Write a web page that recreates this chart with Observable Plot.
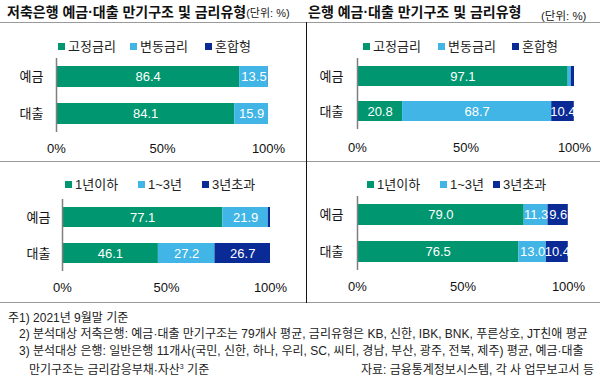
<!DOCTYPE html>
<html>
<head>
<meta charset="utf-8">
<script src="https://cdn.jsdelivr.net/npm/d3@7"></script>
<script src="https://cdn.jsdelivr.net/npm/@observablehq/plot@0.6"></script>
<style>
  html, body { margin: 0; padding: 0; background: #fff; }
  #page { position: relative; width: 600px; height: 380px; overflow: hidden;
          font-family: "Liberation Sans", Arial, "Noto Sans CJK KR", sans-serif; color: #111; }
  .abs { position: absolute; }
  .title { font-size: 14px; font-weight: bold; white-space: nowrap; line-height: 1; }
  .unit { font-size: 11px; font-weight: normal; color: #222; }
  .leg { position: absolute; font-size: 13px; white-space: nowrap; line-height: 1; color: #222; }
  .sw { display: inline-block; width: 7px; height: 7px; margin-right: 3px; vertical-align: 1px; }
  .note { position: absolute; font-size: 12px; white-space: nowrap; line-height: 1; color: #222; }
  .hline { position: absolute; left: 0; width: 600px; height: 0; border-top: 1.5px solid #9a9a9a; }
  .vline { position: absolute; width: 0; border-left: 1.5px solid #111; }
  sup { font-size: 7px; vertical-align: 5px; line-height: 0; }
</style>
</head>
<body>
<div id="page"></div>
<script>
// ---- data ----
const categories = ["예금", "대출"];
const rateTypes = ["고정금리", "변동금리", "혼합형"];
const maturities = ["1년이하", "1~3년", "3년초과"];
const palette = ["#00966F", "#41B5E6", "#0A2A96"];
const xTicks = [0, 50, 100];

// 저축은행 금리유형
const savingsRateDeposit = [86.4, 13.5, 0.1];
const savingsRateLoan = [84.1, 15.9, 0.0];
// 은행 금리유형
const bankRateDeposit = [97.1, 1.4, 1.5];
const bankRateLoan = [20.8, 68.7, 10.4];
// 저축은행 만기구조
const savingsMatDeposit = [77.1, 21.9, 1.0];
const savingsMatLoan = [46.1, 27.2, 26.7];
// 은행 만기구조
const bankMatDeposit = [79.0, 11.3, 9.6];
const bankMatLoan = [76.5, 13.0, 10.4];

const FONT = '"Liberation Sans", Arial, "Noto Sans CJK KR", sans-serif';

function rowsFor(depVals, loanVals, series) {
  const rows = [];
  [[categories[0], depVals], [categories[1], loanVals]].forEach(([cat, vals]) => {
    let acc = 0;
    vals.forEach((v, i) => {
      rows.push({cat, series: series[i], value: v, x1: acc, x2: acc + v});
      acc += v;
    });
  });
  return rows;
}

function panel(o) {
  const rows = rowsFor(o.dep, o.loan, o.series);
  return Plot.plot({
    width: 300,
    height: o.mt + o.ph + o.mb,
    marginLeft: o.ml, marginRight: o.mr, marginTop: o.mt, marginBottom: o.mb,
    style: {fontFamily: FONT, fontSize: "13px", color: "#111", background: "transparent", overflow: "visible"},
    x: {domain: [0, 100], ticks: xTicks, tickFormat: d => d + "%", tickSize: 0, tickPadding: o.xp, label: null},
    y: {domain: categories, paddingInner: o.pi, paddingOuter: o.pi / 2, tickSize: 0, tickPadding: o.yp, label: null},
    color: {domain: o.series, range: palette},
    marks: [
      Plot.barX(rows.filter(d => d.value > 0), {x1: "x1", x2: "x2", y: "cat", fill: "series"}),
      Plot.ruleX([0], {stroke: "#7f7f7f", strokeWidth: 1.5}),
      Plot.text(rows.filter(d => d.value >= 5), {
        x: d => (d.x1 + d.x2) / 2, y: "cat", text: d => d.value.toFixed(1),
        fill: "white", fontSize: 13
      })
    ]
  });
}

const page = document.getElementById("page");
function place(el, left, top) {
  el.style.position = "absolute";
  el.style.left = left + "px";
  el.style.top = top + "px";
  page.appendChild(el);
}
function addHTML(html) { page.insertAdjacentHTML("beforeend", html); }

// titles
addHTML(`<div class="abs title" style="left:7px;top:5px;">저축은행 예금·대출 만기구조 및 금리유형<span class="unit">(단위: %)</span></div>`);
addHTML(`<div class="abs title" style="left:308px;top:5px;">은행 예금·대출 만기구조 및 금리유형</div>`);
addHTML(`<div class="abs unit" style="left:541px;top:7px;font-size:11.5px;white-space:nowrap;">(단위: %)</div>`);

// separators
addHTML(`<div class="hline" style="top:22px;"></div>`);
addHTML(`<div class="hline" style="top:161px;"></div>`);
addHTML(`<div class="hline" style="top:302px;"></div>`);
addHTML(`<div class="vline" style="left:306px;top:22px;height:281px;"></div>`);

// legends
function legend(labels, xs, yc) {
  labels.forEach((lab, i) => {
    addHTML(`<div class="leg" style="left:${xs[i]}px;top:${yc - 7}px;"><span class="sw" style="background:${palette[i]}"></span>${lab}</div>`);
  });
}
legend(rateTypes, [58, 130, 205], 47);
legend(rateTypes, [363, 438, 512], 47);
legend(maturities, [65, 138, 202], 185);
legend(maturities, [367, 440, 493], 185);

// panels
place(panel({dep: savingsRateDeposit, loan: savingsRateLoan, series: rateTypes,
  ml: 56, mr: 32, mt: 2, ph: 74, mb: 30, pi: 0.43, xp: 11, yp: 13}), 0, 56);
place(panel({dep: bankRateDeposit, loan: bankRateLoan, series: rateTypes,
  ml: 57, mr: 26, mt: 2, ph: 71, mb: 30, pi: 0.42, xp: 13, yp: 14}), 300, 56);
place(panel({dep: savingsMatDeposit, loan: savingsMatLoan, series: maturities,
  ml: 62, mr: 30, mt: 37, ph: 72, mb: 30, pi: 0.44, xp: 11, yp: 12}), 0, 162);
place(panel({dep: bankMatDeposit, loan: bankMatLoan, series: maturities,
  ml: 57, mr: 32, mt: 34, ph: 74, mb: 30, pi: 0.43, xp: 11, yp: 14}), 300, 162);

// footnotes
addHTML(`<div class="note" style="left:8px;top:312px;">주1) 2021년 9월말 기준</div>`);
addHTML(`<div class="note" style="left:19px;top:328px;">2) 분석대상 저축은행: 예금·대출 만기구조는 79개사 평균, 금리유형은 KB, 신한, IBK, BNK, 푸른상호, JT친애 평균</div>`);
addHTML(`<div class="note" style="left:19px;top:345px;">3) 분석대상 은행: 일반은행 11개사(국민, 신한, 하나, 우리, SC, 씨티, 경남, 부산, 광주, 전북, 제주) 평균, 예금·대출</div>`);
addHTML(`<div class="note" style="left:29px;top:364px;">만기구조는 금리감응부채·자산<sup>3</sup> 기준</div>`);
addHTML(`<div class="note" style="right:6px;top:364px;">자료: 금융통계정보시스템, 각 사 업무보고서 등</div>`);
</script>
</body>
</html>
